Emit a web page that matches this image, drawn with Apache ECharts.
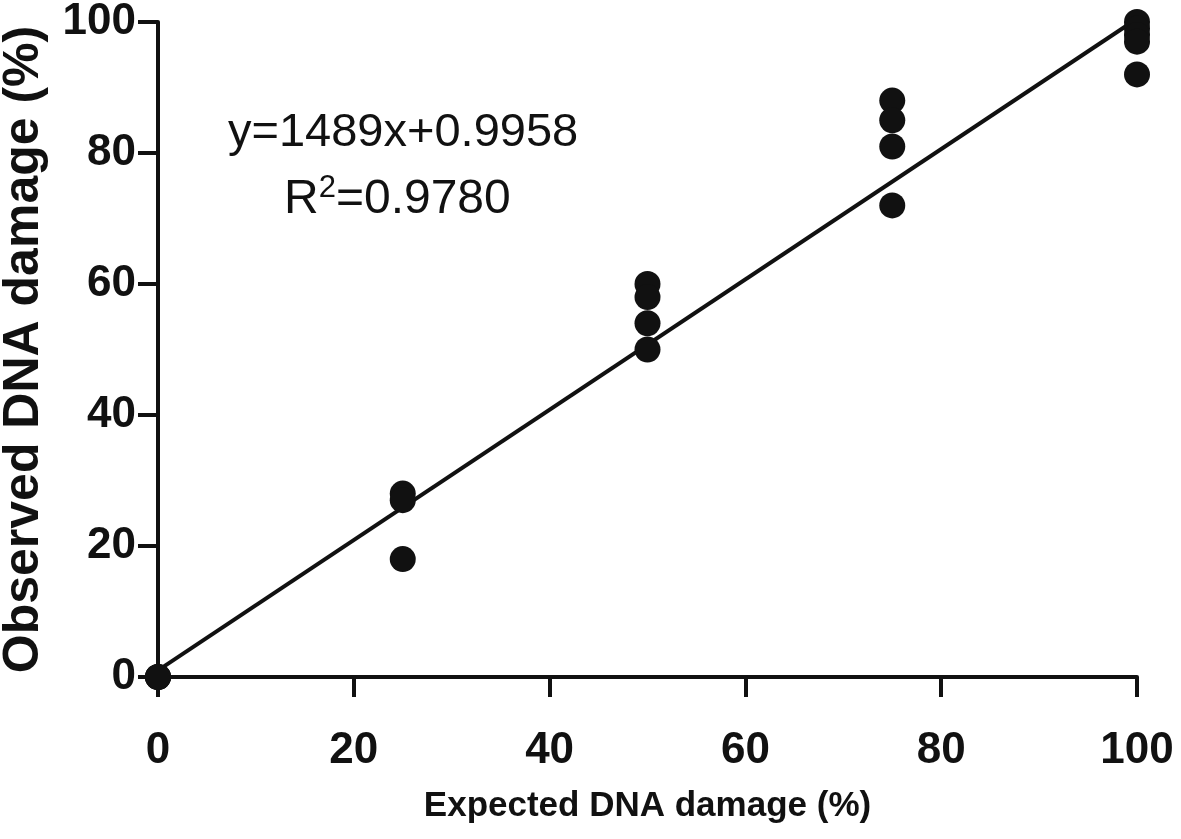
<!DOCTYPE html>
<html>
<head>
<meta charset="utf-8">
<script src="https://cdn.jsdelivr.net/npm/echarts@6/dist/echarts.min.js"></script>
<style>
  html, body { margin: 0; padding: 0; background: #fff; }
  #chart { width: 1181px; height: 839px; }
</style>
</head>
<body>
<div id="chart"></div>
<script>
// observed damage, grouped by expected damage
var expected = [0, 25, 50, 75, 100];
var observed = [
  [0, 0, 0],
  [28, 27, 18],
  [60, 58, 54, 50],
  [88, 85, 81, 72],
  [100, 99, 98, 97, 92]
];
// fitted line end points
var fitX = [0, 100];
var fitY = [1, 100.5];
var ticks = [0, 20, 40, 60, 80, 100];

var points = [];
for (var i = 0; i < expected.length; i++) {
  for (var j = 0; j < observed[i].length; j++) {
    points.push([expected[i], observed[i][j]]);
  }
}
var fitLine = fitX.map(function (x, k) { return [x, fitY[k]]; });

var font = '"Liberation Sans", Arial, sans-serif';
var axisCommon = {
  type: 'value',
  min: ticks[0],
  max: ticks[ticks.length - 1],
  interval: 20,
  splitLine: { show: false },
  axisLine: { lineStyle: { color: '#111', width: 4 } },
  axisTick: { show: true, length: 20, lineStyle: { color: '#111', width: 4 } },
  nameLocation: 'middle'
};

var chart = echarts.init(document.getElementById('chart'));
chart.setOption({
  backgroundColor: '#fff',
  animation: false,
  grid: { left: 158, right: 44, top: 22, bottom: 162, outerBoundsMode: 'none' },
  xAxis: Object.assign({}, axisCommon, {
    name: 'Expected DNA damage (%)',
    nameGap: 112,
    nameTextStyle: { fontFamily: font, fontWeight: 'bold', fontSize: 35, color: '#111' },
    axisLabel: { margin: 52, fontFamily: font, fontWeight: 'bold', fontSize: 44, color: '#111' }
  }),
  yAxis: Object.assign({}, axisCommon, {
    name: 'Observed DNA damage (%)',
    nameGap: 109,
    nameTextStyle: { fontFamily: font, fontWeight: 'bold', fontSize: 50, color: '#111' },
    axisLabel: { margin: 22, fontFamily: font, fontWeight: 'bold', fontSize: 44, color: '#111' }
  }),
  graphic: [
    {
      type: 'text',
      left: 228,
      top: 110,
      style: { text: 'y=1489x+0.9958', font: '47px ' + font, fill: '#111' }
    },
    {
      type: 'text',
      left: 284,
      top: 173,
      style: {
        text: 'R{sup|2}=0.9780',
        font: '48px ' + font,
        fill: '#111',
        rich: { sup: { fontSize: 31, fontFamily: font, verticalAlign: 'top', padding: [0, 0, 22, 0] } }
      }
    }
  ],
  series: [
    {
      type: 'scatter',
      data: points,
      symbol: 'circle',
      symbolSize: 26,
      clip: false,
      itemStyle: { color: '#111', opacity: 1 },
      z: 3
    },
    {
      type: 'line',
      data: fitLine,
      symbol: 'none',
      clip: false,
      lineStyle: { color: '#111', width: 4 },
      z: 2
    }
  ]
});
</script>
</body>
</html>
